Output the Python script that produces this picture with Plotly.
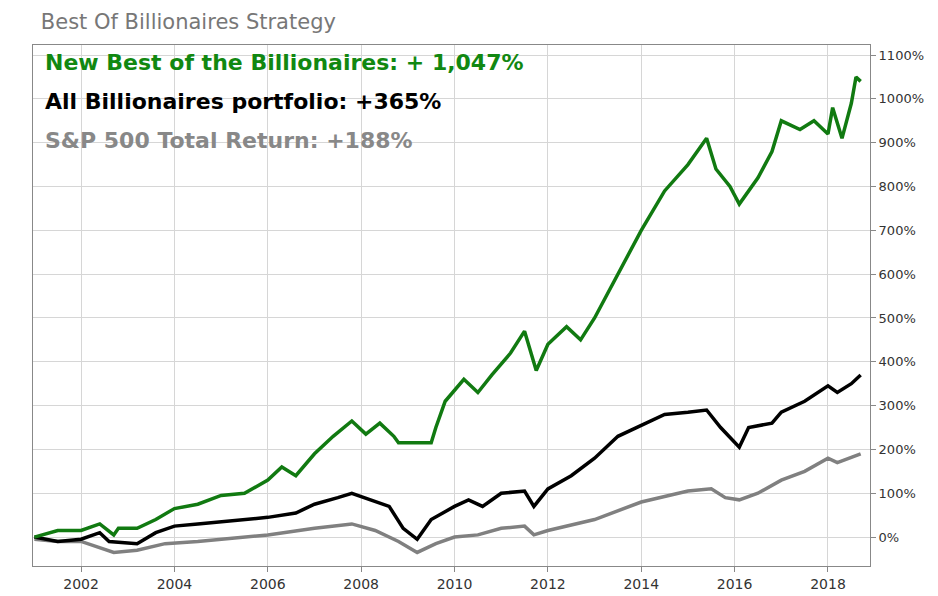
import plotly.graph_objects as go

# fractional years and cumulative return in %
best_x = [2001.0, 2001.5, 2002.0, 2002.4, 2002.7, 2002.8, 2003.2, 2003.6, 2004.0, 2004.5, 2005.0, 2005.5,
          2006.0, 2006.3, 2006.6, 2007.0, 2007.4, 2007.8, 2008.1, 2008.4, 2008.7, 2008.8, 2009.5, 2009.6,
          2009.8, 2010.2, 2010.5, 2010.8, 2011.2, 2011.5, 2011.75, 2012.0, 2012.4, 2012.7, 2013.0, 2013.5,
          2014.0, 2014.5, 2015.0, 2015.4, 2015.6, 2015.9, 2016.1, 2016.5, 2016.8, 2017.0, 2017.4, 2017.7,
          2018.0, 2018.1, 2018.3, 2018.5, 2018.6, 2018.7]
best_y = [0, 15, 15, 30, 5, 20, 20, 40, 65, 75, 95, 100,
          130, 160, 140, 190, 230, 265, 235, 260, 230, 215, 215, 250,
          310, 360, 330, 370, 420, 470, 380, 440, 480, 450, 500, 600,
          700, 790, 850, 910, 840, 800, 760, 820, 880, 950, 930, 950,
          920, 980, 910, 990, 1050, 1040]

all_x = [2001.0, 2001.5, 2002.0, 2002.4, 2002.6, 2003.2, 2003.6, 2004.0, 2004.5, 2005.0, 2006.0, 2006.6,
         2007.0, 2007.5, 2007.8, 2008.2, 2008.6, 2008.9, 2009.2, 2009.5, 2010.0, 2010.3, 2010.6, 2011.0,
         2011.5, 2011.7, 2012.0, 2012.5, 2013.0, 2013.5, 2014.0, 2014.5, 2015.0, 2015.4, 2015.7, 2016.1,
         2016.3, 2016.8, 2017.0, 2017.5, 2018.0, 2018.2, 2018.5, 2018.7]
all_y = [0, -10, -5, 10, -10, -15, 10, 25, 30, 35, 45, 55,
         75, 90, 100, 85, 70, 20, -5, 40, 70, 85, 70, 100,
         105, 70, 110, 140, 180, 230, 255, 280, 285, 290, 250, 205,
         250, 260, 285, 310, 345, 330, 350, 370]

sp_x = [2001.0, 2001.5, 2002.0, 2002.7, 2003.2, 2003.8, 2004.5, 2005.0, 2006.0, 2007.0, 2007.8, 2008.3,
        2008.8, 2009.2, 2009.6, 2010.0, 2010.5, 2011.0, 2011.5, 2011.7, 2012.0, 2013.0, 2014.0, 2015.0,
        2015.5, 2015.8, 2016.1, 2016.5, 2017.0, 2017.5, 2018.0, 2018.2, 2018.7]
sp_y = [-5, -10, -10, -35, -30, -15, -10, -5, 5, 20, 30, 15,
        -10, -35, -15, 0, 5, 20, 25, 5, 15, 40, 80, 105,
        110, 90, 85, 100, 130, 150, 180, 170, 190]

year_ticks = [2002, 2004, 2006, 2008, 2010, 2012, 2014, 2016, 2018]
pct_ticks = list(range(0, 1101, 100))
pct_labels = ["%d%%" % v for v in pct_ticks]

fig = go.Figure()
fig.add_trace(go.Scatter(x=sp_x, y=sp_y, mode='lines', line=dict(color='#808080', width=3.5)))
fig.add_trace(go.Scatter(x=all_x, y=all_y, mode='lines', line=dict(color='black', width=3.5)))
fig.add_trace(go.Scatter(x=best_x, y=best_y, mode='lines', line=dict(color='#117a11', width=3.5)))

labels = [("New Best of the Billionaires: + 1,047%", '#118811'),
          ("All Billionaires portfolio: +365%", 'black'),
          ("S&P 500 Total Return: +188%", '#888888')]
for i, (txt, col) in enumerate(labels):
    fig.add_annotation(text="<b>%s</b>" % txt, xref='paper', yref='paper', x=0.012, y=0.995 - i * 0.075,
                       xanchor='left', yanchor='top', showarrow=False,
                       font=dict(family='DejaVu Sans', size=22, color=col))

fig.update_layout(
    width=938, height=596, showlegend=False,
    paper_bgcolor='white', plot_bgcolor='white',
    margin=dict(l=25, r=76, t=37, b=34),
    title=dict(text="Best Of Billionaires Strategy", x=0.035, y=0.99, xanchor='left', yanchor='top',
               font=dict(family='DejaVu Sans', size=21, color='#777777')),
    xaxis=dict(range=[2000.97, 2018.9], tickvals=year_ticks, showgrid=True, gridcolor='#d6d6d6',
               ticks='outside', ticklen=5, tickcolor='#888', showline=True, linecolor='#888', mirror=True,
               tickfont=dict(family='DejaVu Sans', size=14, color='#333'), zeroline=False),
    yaxis=dict(range=[-66, 1123], side='right', tickvals=pct_ticks, ticktext=pct_labels, showgrid=True,
               gridcolor='#d6d6d6', ticks='outside', ticklen=5, tickcolor='#888', showline=True,
               linecolor='#888', mirror=True, zeroline=False, automargin=False,
               tickfont=dict(family='DejaVu Sans', size=13, color='#333')),
)
fig.write_html("out.html")
